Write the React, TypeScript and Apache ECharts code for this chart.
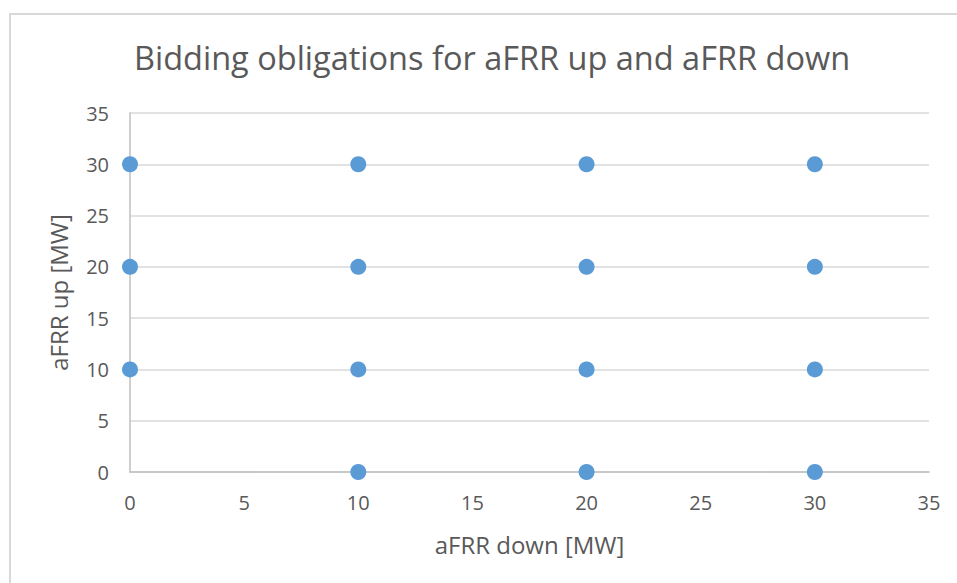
import React, { useEffect, useRef } from "react";
import * as echarts from "echarts";

const TITLE = "Bidding obligations for aFRR up and aFRR down";
const X_NAME = "aFRR down [MW]";
const Y_NAME = "aFRR up [MW]";
const downValues = [0, 0, 0, 10, 10, 10, 10, 20, 20, 20, 20, 30, 30, 30, 30];
const upValues = [10, 20, 30, 0, 10, 20, 30, 0, 10, 20, 30, 0, 10, 20, 30];

export default function App() {
  const ref = useRef<HTMLDivElement>(null);
  useEffect(() => {
    if (!ref.current) return;
    const chart = echarts.init(ref.current, null, { renderer: "svg" });
    const font = "'Open Sans', sans-serif";
    const grey = "#595959";
    chart.setOption({
      animation: false,
      backgroundColor: "#ffffff",
      title: {
        text: TITLE,
        left: 129,
        top: 36,
        textStyle: { fontFamily: font, fontSize: 32.5, fontWeight: "normal", color: grey },
      },
      graphic: [
        {
          type: "rect",
          shape: { x: 10, y: 14, width: 1000, height: 700 },
          style: { fill: "none", stroke: "#d9d9d9", lineWidth: 2 },
          silent: true,
        },
      ],
      grid: { left: 130, right: 28, top: 113, bottom: 111 },
      xAxis: {
        type: "value",
        min: 0,
        max: 35,
        interval: 5,
        name: X_NAME,
        nameLocation: "middle",
        nameGap: 60,
        nameTextStyle: { fontFamily: font, fontSize: 24, color: grey },
        axisLine: { show: true, lineStyle: { color: "#bfbfbf", width: 1.5 } },
        axisTick: { show: false },
        splitLine: { show: false },
        axisLabel: { fontFamily: font, fontSize: 20, color: grey, margin: 20 },
      },
      yAxis: {
        type: "value",
        min: 0,
        max: 35,
        interval: 5,
        name: Y_NAME,
        nameLocation: "middle",
        nameRotate: 90,
        nameGap: 60,
        nameTextStyle: { fontFamily: font, fontSize: 24, color: grey },
        axisLine: { show: true, lineStyle: { color: "#bfbfbf", width: 1.5 } },
        axisTick: { show: false },
        splitLine: { show: true, lineStyle: { color: "#d9d9d9", width: 1.5 } },
        axisLabel: { fontFamily: font, fontSize: 20, color: grey, margin: 21 },
      },
      series: [
        {
          type: "scatter",
          data: downValues.map((d, i) => [d, upValues[i]]),
          symbolSize: 16,
          itemStyle: { color: "#5B9BD5", opacity: 1 },
        },
      ],
    });
    return () => chart.dispose();
  }, []);
  return (
    <div
      ref={ref}
      style={{ position: "fixed", left: 0, top: 0, width: 957, height: 583 }}
    />
  );
}
